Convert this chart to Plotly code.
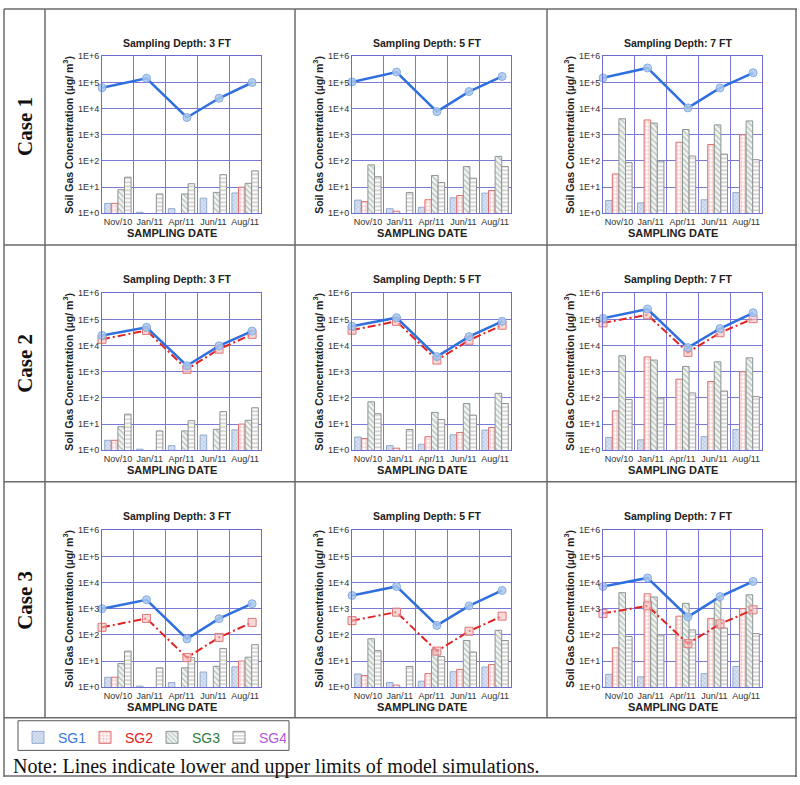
import plotly.graph_objects as go

W, H = 800, 785

dates = ["Nov/10", "Jan/11", "Apr/11", "Jun/11", "Aug/11"]
date_idx = [0, 1, 2, 3, 4]
# model-output sampling positions on the date scale
model_pos = [-0.5, 0.9, 2.17, 3.18, 4.22]

depths = ["3 FT", "5 FT", "7 FT"]
cases = ["Case 1", "Case 2", "Case 3"]
series_names = ["SG1", "SG2", "SG3", "SG4"]
ytick_vals = [1, 10, 100, 1000, 1e4, 1e5, 1e6]
ytick_text = ["1E+0", "1E+1", "1E+2", "1E+3", "1E+4", "1E+5", "1E+6"]

# measured soil gas concentrations (ug/m3)
sg1_3ft = [2.4, 1.1, 1.5, 3.8, 6.0]
sg2_3ft = [2.4, None, None, None, 10.0]
sg3_3ft = [8.0, None, 5.5, 6.3, 14.0]
sg4_3ft = [24, 5.5, 13.5, 30, 42]

sg1_5ft = [3.2, 1.5, 1.7, 3.9, 5.9]
sg2_5ft = [2.8, 1.2, 3.3, 4.8, 7.4]
sg3_5ft = [71, None, 28, 61, 150]
sg4_5ft = [25, 6.2, 15, 22, 61]

sg1_7ft = [3.1, 2.5, None, 3.3, 6.2]
sg2_7ft = [32, 3700, 520, 425, 1000]
sg3_7ft = [4100, 2800, 1600, 2400, 3400]
sg4_7ft = [87, 100, 155, 183, 112]

# model simulation limits (upper = blue, lower = red)
upper_c1_3ft = [6.3e4, 1.45e5, 4.6e3, 2.5e4, 1.0e5]
upper_c1_5ft = [1.05e5, 2.5e5, 7.7e3, 4.5e4, 1.7e5]
upper_c1_7ft = [1.5e5, 3.6e5, 1.07e4, 6.2e4, 2.35e5]

upper_c2_3ft = [2.45e4, 5.0e4, 1.7e3, 9.8e3, 3.6e4]
lower_c2_3ft = [1.74e4, 3.8e4, 1.24e3, 7.3e3, 2.7e4]
upper_c2_5ft = [5.5e4, 1.17e5, 3.8e3, 2.2e4, 8.5e4]
lower_c2_5ft = [3.9e4, 8.5e4, 2.8e3, 1.6e4, 6.0e4]
upper_c2_7ft = [1.1e5, 2.5e5, 8.4e3, 4.5e4, 1.8e5]
lower_c2_7ft = [7.4e4, 1.5e5, 5.5e3, 3.1e4, 1.07e5]

upper_c3_3ft = [1.0e3, 2.2e3, 70, 415, 1.55e3]
lower_c3_3ft = [195, 425, 13.5, 80, 300]
upper_c3_5ft = [3.2e3, 7.1e3, 230, 1.28e3, 5.0e3]
lower_c3_5ft = [350, 740, 24, 138, 520]
upper_c3_7ft = [7.1e3, 1.5e4, 490, 2.9e3, 1.1e4]
lower_c3_7ft = [660, 1.28e3, 46, 262, 910]

bars_by_depth = [
    [sg1_3ft, sg2_3ft, sg3_3ft, sg4_3ft],
    [sg1_5ft, sg2_5ft, sg3_5ft, sg4_5ft],
    [sg1_7ft, sg2_7ft, sg3_7ft, sg4_7ft],
]
upper_lines = [
    [upper_c1_3ft, upper_c1_5ft, upper_c1_7ft],
    [upper_c2_3ft, upper_c2_5ft, upper_c2_7ft],
    [upper_c3_3ft, upper_c3_5ft, upper_c3_7ft],
]
lower_lines = [
    [None, None, None],
    [lower_c2_3ft, lower_c2_5ft, lower_c2_7ft],
    [lower_c3_3ft, lower_c3_5ft, lower_c3_7ft],
]

# styles
bar_styles = [
    dict(shape="x", fg="#86a2cc", bg="#d8e2f1", line="#93aad0", size=3),
    dict(shape="+", fg="#e06464", bg="#ffffff", line="#e07070", size=4),
    dict(shape="\\", fg="#7f9088", bg="#f2f4f2", line="#8a9690", size=4),
    dict(shape="-", fg="#8a8a8a", bg="#ffffff", line="#909090", size=4),
]
legend_colors = ["#3a78e0", "#e52222", "#2e7d3a", "#b455d8"]
frame_col = "#6b6bd2"
grid_col = "#7a7ad6"

# pixel positions in the window
col_x = [(102, 261), (352, 511), (603, 762)]
row_y = [(52, 211), (292, 451), (532, 691)]


def xp(x):
    return x / W


def yp(y):
    return 1 - y / H


fig = go.Figure()
layout = dict(
    width=W, height=H, margin=dict(l=0, r=0, t=0, b=0),
    paper_bgcolor="white", plot_bgcolor="white",
    barmode="group", bargap=0.17, bargroupgap=0,
    font=dict(family="Liberation Sans, Arial", color="#222"),
    showlegend=True,
)
annotations = []
shapes = []

for r in range(3):
    for c in range(3):
        k = r * 3 + c + 1
        xa = "x" if k == 1 else f"x{k}"
        ya = "y" if k == 1 else f"y{k}"
        x0, x1 = col_x[c]
        y0, y1 = row_y[r]
        layout["xaxis" + ("" if k == 1 else str(k))] = dict(
            domain=[xp(x0), xp(x1)], anchor=ya, range=[-0.5, 4.5],
            tickmode="array", tickvals=date_idx, ticktext=dates,
            showgrid=False, zeroline=False,
            minor=dict(tick0=0.5, dtick=1, showgrid=True, gridcolor=grid_col, gridwidth=1, ticks=""),
            showline=True, mirror=True, linecolor=frame_col, linewidth=1,
            ticks="", tickfont=dict(size=9, color="#333"),
        )
        layout["yaxis" + ("" if k == 1 else str(k))] = dict(
            domain=[yp(y1), yp(y0)], anchor=xa, type="log", range=[0, 6],
            tickmode="array", tickvals=ytick_vals, ticktext=ytick_text,
            showgrid=True, gridcolor=grid_col, gridwidth=1, zeroline=False,
            showline=True, mirror=True, linecolor=frame_col, linewidth=1,
            ticks="", tickfont=dict(size=9, color="#333"),
        )
        for s in range(4):
            st = bar_styles[s]
            fig.add_trace(go.Bar(
                x=date_idx, y=bars_by_depth[c][s], xaxis=xa, yaxis=ya,
                name=f'<span style="color:{legend_colors[s]}">{series_names[s]}</span>',
                legendgroup=series_names[s], showlegend=(k == 1),
                marker=dict(color=st["bg"], line=dict(color=st["line"], width=1),
                            pattern=dict(shape=st["shape"], fgcolor=st["fg"], bgcolor=st["bg"],
                                         size=st["size"], solidity=0.35)),
            ))
        low = lower_lines[r][c]
        if low is not None:
            fig.add_trace(go.Scatter(
                x=model_pos, y=low, xaxis=xa, yaxis=ya, mode="lines+markers",
                line=dict(color="#e02424", width=2, dash="8px,3px,2px,3px"),
                marker=dict(symbol="square", size=8, color="rgba(245,190,190,0.6)",
                            line=dict(color="#e07878", width=1)),
                showlegend=False, cliponaxis=False,
            ))
        fig.add_trace(go.Scatter(
            x=model_pos, y=upper_lines[r][c], xaxis=xa, yaxis=ya, mode="lines+markers",
            line=dict(color="#2f6fe0", width=2.5),
            marker=dict(symbol="circle", size=8, color="rgba(170,200,236,0.85)",
                        line=dict(color="#86aee6", width=1)),
            showlegend=False, cliponaxis=False,
        ))
        cx = (x0 + x1) / 2
        # panel title
        annotations.append(dict(
            x=xp(cx - 4), y=yp(y0 - 14), xref="paper", yref="paper",
            text=f"Sampling Depth: {depths[c]}", showarrow=False,
            font=dict(size=10.5, color="#222", weight="bold"),
            xanchor="center", yanchor="middle"))
        # x title
        annotations.append(dict(
            x=xp(cx - 10), y=yp(y1 + 20), xref="paper", yref="paper",
            text="SAMPLING DATE", showarrow=False,
            font=dict(size=11, color="#222", weight="bold"),
            xanchor="center", yanchor="middle"))
        # y title
        annotations.append(dict(
            x=xp(x0 - 34), y=yp((y0 + y1) / 2), xref="paper", yref="paper",
            text="Soil Gas Concentration (µg/ m<sup>3</sup>)", showarrow=False,
            textangle=-90, font=dict(size=10.5, color="#222", weight="bold"),
            xanchor="center", yanchor="middle"))

# case labels
for r in range(3):
    y0, y1 = row_y[r]
    annotations.append(dict(
        x=xp(25), y=yp((y0 + y1) / 2 - 8), xref="paper", yref="paper",
        text=cases[r], showarrow=False, textangle=-90,
        font=dict(family="Liberation Serif, Times New Roman", size=21, color="#111", weight="bold"),
        xanchor="center", yanchor="middle"))

# note
annotations.append(dict(
    x=xp(11), y=yp(771), xref="paper", yref="paper",
    text="Note: Lines indicate lower and upper limits of model simulations.",
    showarrow=False, xanchor="left", yanchor="middle",
    font=dict(family="Liberation Serif, Times New Roman", size=20, color="#111")))

# table grid lines
tcol = "#6a6a6a"


def hline(y, xa0=4, xa1=797):
    shapes.append(dict(type="line", xref="paper", yref="paper",
                       x0=xp(xa0), x1=xp(xa1), y0=yp(y), y1=yp(y),
                       line=dict(color=tcol, width=1.5)))


def vline(x, ya0=4, ya1=782):
    shapes.append(dict(type="line", xref="paper", yref="paper",
                       x0=xp(x), x1=xp(x), y0=yp(ya0), y1=yp(ya1),
                       line=dict(color=tcol, width=1.5)))


hline(4); hline(243); hline(483); hline(722); hline(781)
vline(4); vline(796)
vline(45, 4, 722); vline(295, 4, 722); vline(547, 4, 722)

# legend frame
shapes.append(dict(type="rect", xref="paper", yref="paper",
                   x0=xp(18), x1=xp(289), y0=yp(725), y1=yp(755),
                   line=dict(color="#555", width=1), layer="above"))

layout["annotations"] = annotations
layout["shapes"] = shapes
layout["legend"] = dict(
    orientation="h", x=xp(18), y=yp(726), xanchor="left", yanchor="top",
    borderwidth=0, bgcolor="rgba(0,0,0,0)",
    font=dict(size=14, family="Liberation Sans, Arial"),
    itemwidth=30, tracegroupgap=0, entrywidth=22, entrywidthmode="pixels",
)
fig.update_layout(**layout)
fig.write_html("out.html", config={"displayModeBar": False},
               post_script="document.body.style.margin='0px';")
